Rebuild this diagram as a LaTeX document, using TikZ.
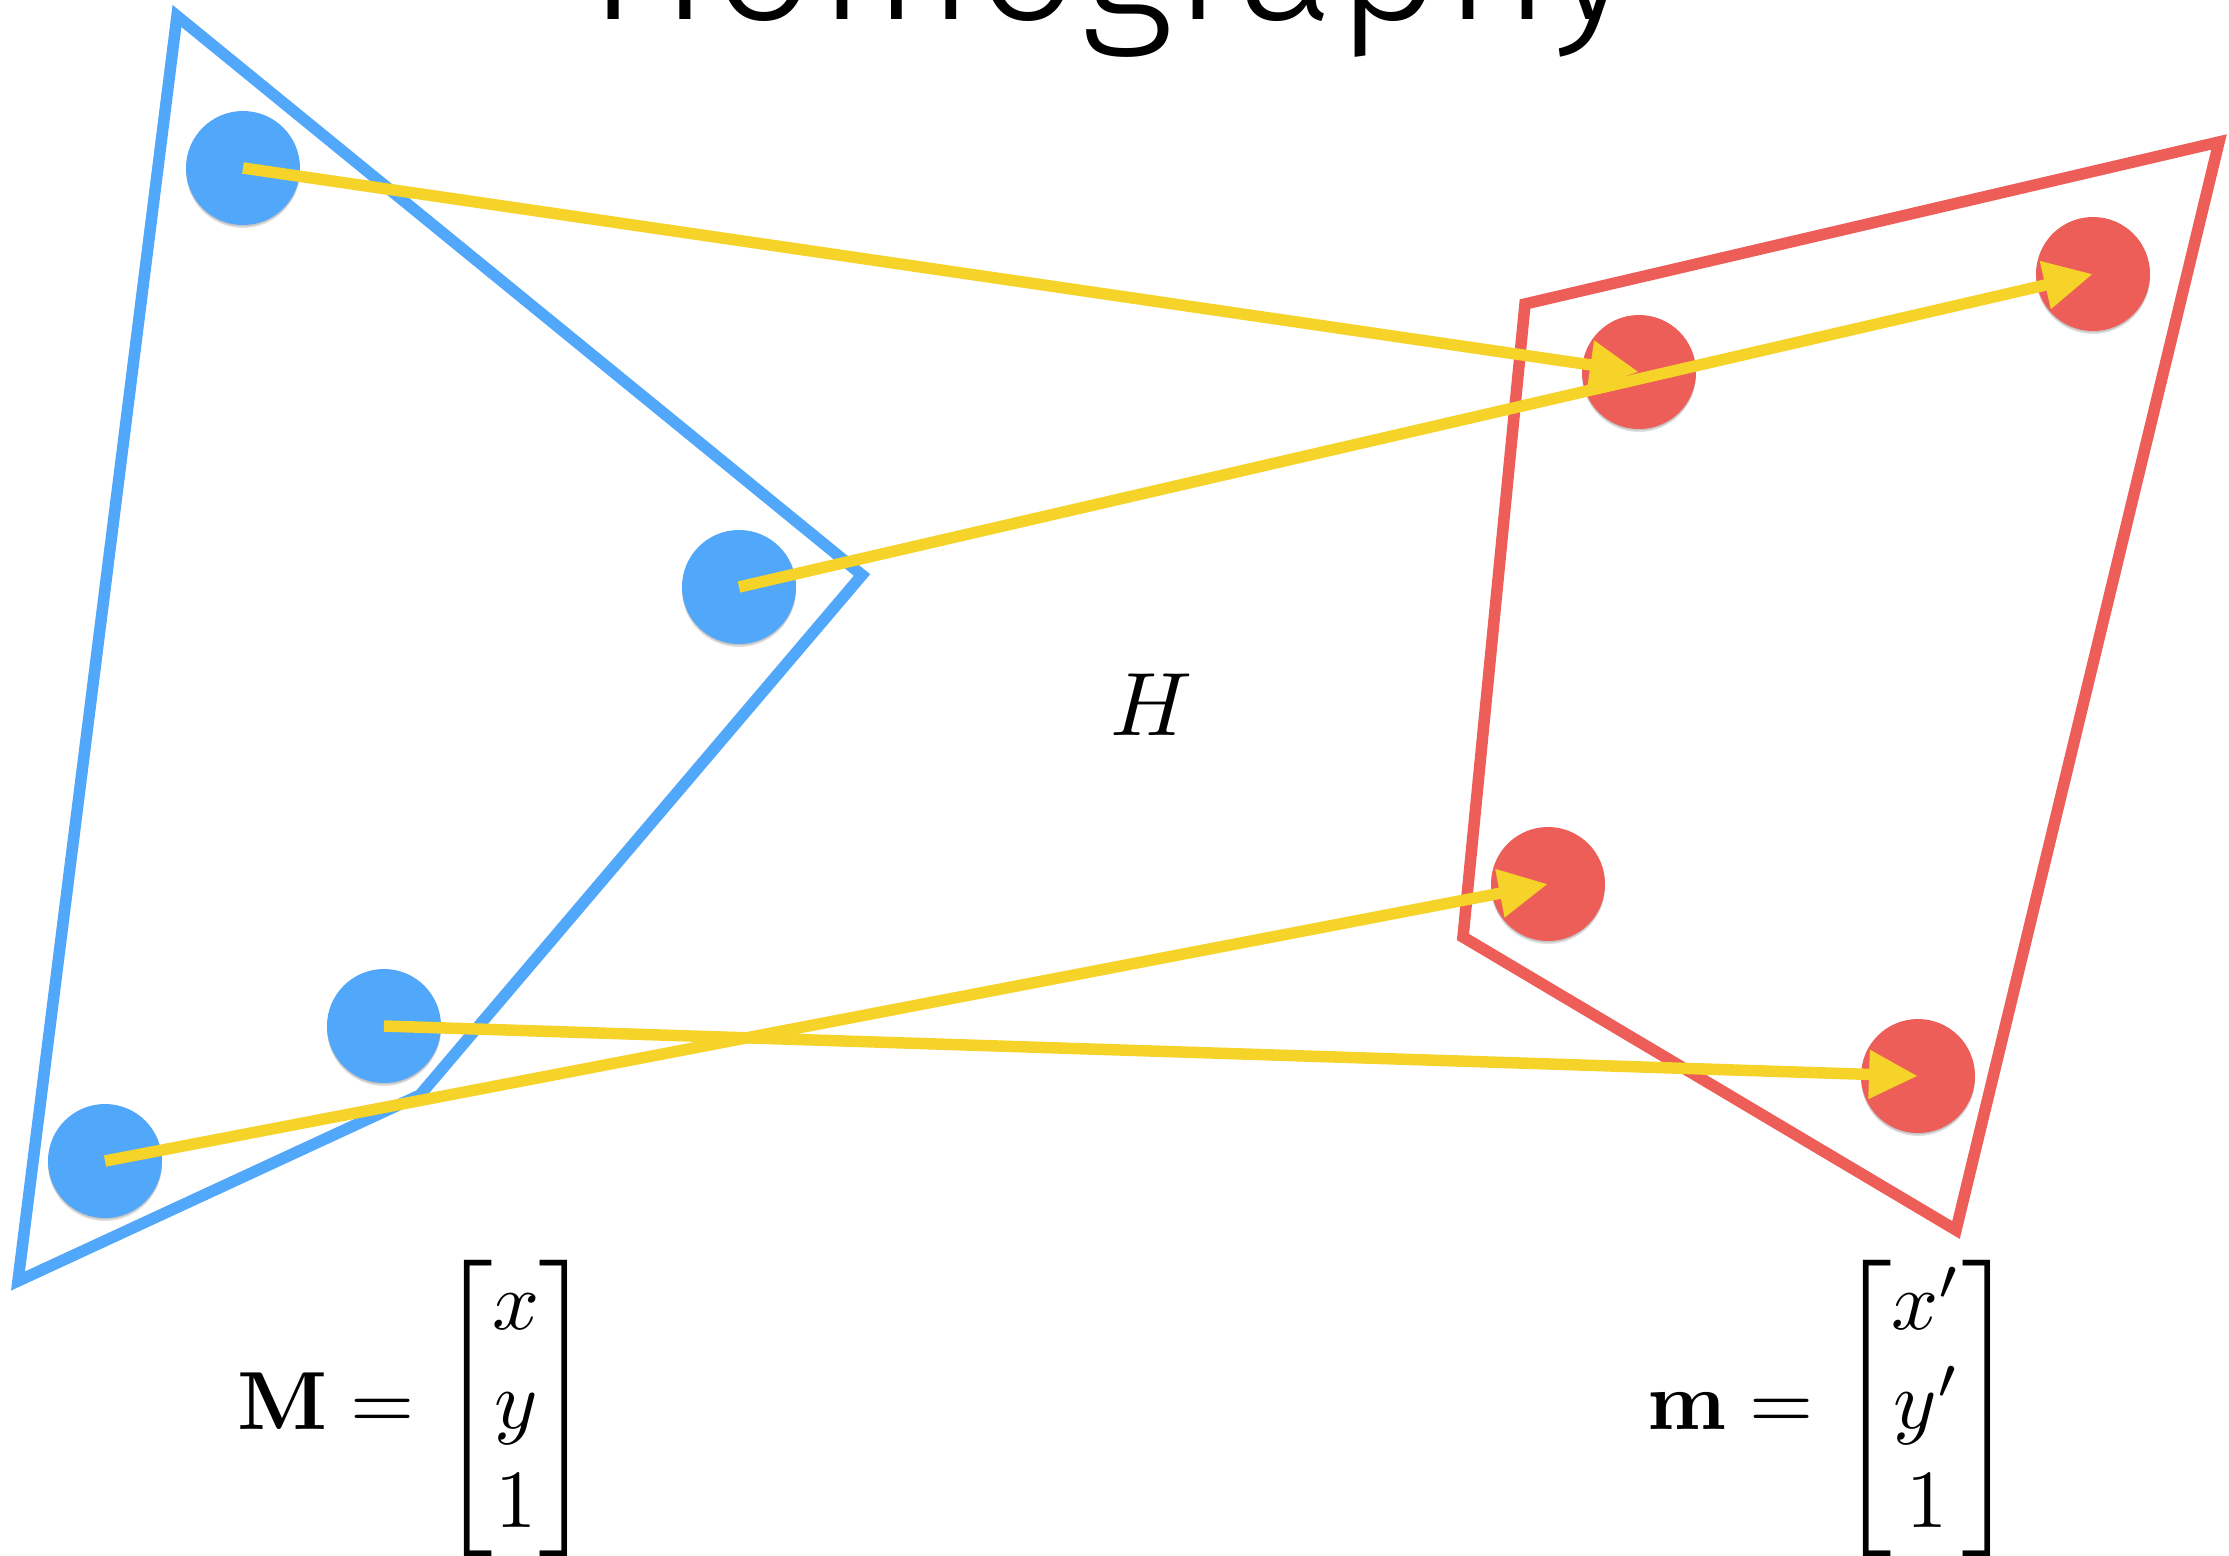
\documentclass[tikz,border=0pt]{standalone}
\usepackage{amsmath}
\usepackage[no-math]{fontspec}
\IfFontExistsTF{Fira Sans Light}{\newfontfamily\titlefont{Fira Sans Light}}{\newfontfamily\titlefont{TeX Gyre Heros}}
\usetikzlibrary{arrows.meta,shadows}
\definecolor{hblue}{RGB}{81,167,249}
\definecolor{hred}{RGB}{236,94,87}
\definecolor{hyellow}{RGB}{245,211,40}
\begin{document}
\begin{tikzpicture}[x=1pt,y=-1pt,
  quad/.style={line width=11.5pt, line join=miter},
  dot/.style={circle, inner sep=0pt, minimum size=114pt, fill=#1,
    drop shadow={shadow xshift=0pt, shadow yshift=-3pt, fill=black, opacity=0.12},
    drop shadow={shadow xshift=0pt, shadow yshift=-1.5pt, fill=black, opacity=0.12}},
  map/.style={draw=hyellow, line width=11.5pt, -{Triangle[length=49pt,width=46pt]}},
  mathlbl/.style={inner sep=0pt, scale=8.25, anchor=base west},
]
\useasboundingbox (0,0) rectangle (2229,1555);
\fill[white] (0,0) rectangle (2229,1555);

% title
\node[font=\titlefont\fontsize{185}{200}\selectfont, anchor=base, inner sep=0pt] (title) at (1112,20) {Homography};

% source plane (blue)
\coordinate (bA) at (177,16);
\coordinate (bB) at (862,575);
\coordinate (bC) at (420,1095);
\coordinate (bD) at (18,1281);
\draw[quad, hblue] (bA) -- (bB) -- (bC) -- (bD) -- cycle;

% target plane (red)
\coordinate (rA) at (1525,304);
\coordinate (rB) at (2219,142);
\coordinate (rC) at (1956,1230);
\coordinate (rD) at (1463,937);
\draw[quad, hred] (rA) -- (rB) -- (rC) -- (rD) -- cycle;

% points
\node[dot=hblue] (b1) at (243,168) {};
\node[dot=hblue] (b2) at (739,587) {};
\node[dot=hblue] (b3) at (384,1026) {};
\node[dot=hblue] (b4) at (105,1161) {};
\node[dot=hred] (r1) at (1639,372) {};
\node[dot=hred] (r2) at (2093,274) {};
\node[dot=hred] (r3) at (1548,884) {};
\node[dot=hred] (r4) at (1918,1076) {};

% mappings
\draw[map] (b1.center) -- (r1.center);
\draw[map] (b2.center) -- (r2.center);
\draw[map] (b4.center) -- (r3.center);
\draw[map] (b3.center) -- (r4.center);

% labels
\node[inner sep=0pt, scale=9, anchor=base] (H) at (1152,735) {$H$};
\node[mathlbl] (Mvec) at (236,1429) {$\mathbf{M} = \begin{bmatrix} x\\ y\\ 1\end{bmatrix}$};
\node[mathlbl] (mvec) at (1646,1429) {$\mathbf{m} = \begin{bmatrix} x'\\ y'\\ 1\end{bmatrix}$};
\end{tikzpicture}
\end{document}
